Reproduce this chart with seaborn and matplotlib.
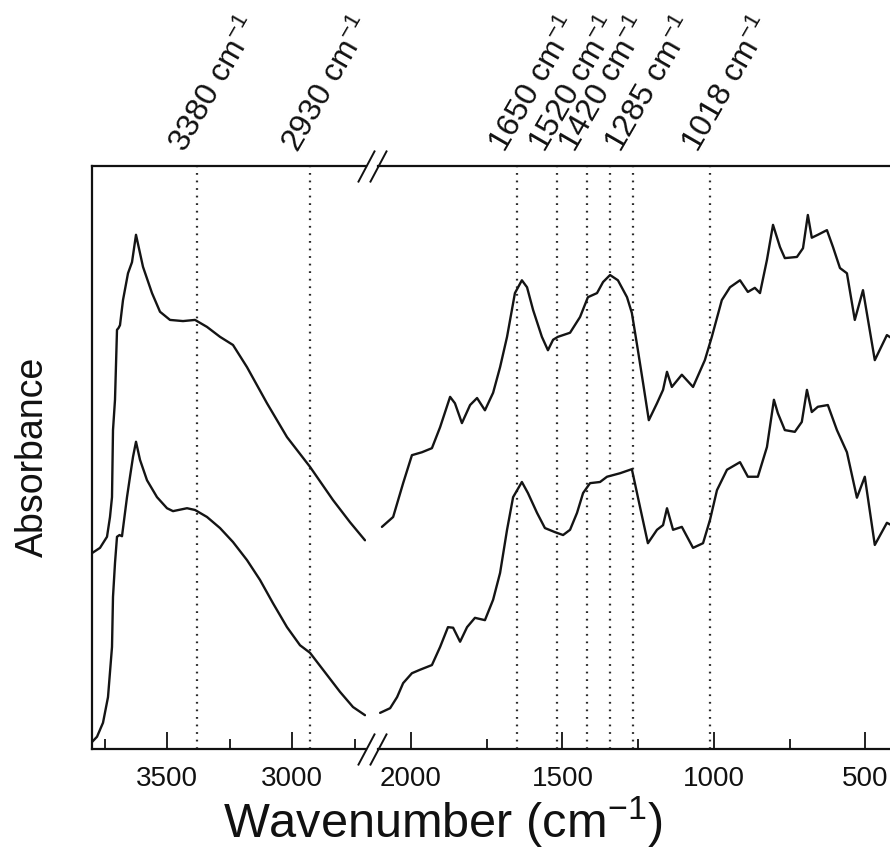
"""
FTIR spectra with a broken wavenumber axis
==========================================
Two stacked absorbance spectra, high-wavenumber and fingerprint regions.
"""

import pandas as pd
import matplotlib
matplotlib.use('Agg')
import matplotlib.pyplot as plt
import seaborn as sns


# =============================================================================
# DATA (arbitrary absorbance units)
# =============================================================================

# High-wavenumber region (3800 - 2700 cm-1)
UPPER_HIGH_WN = [3800, 3768, 3740, 3728, 3720, 3716, 3708, 3700, 3694, 3688,
                 3676, 3656, 3640, 3624, 3596, 3560, 3528, 3488, 3436, 3388,
                 3340, 3288, 3236, 3180, 3100, 3020, 2928, 2836, 2768, 2708]
UPPER_HIGH_ABS = [0.336, 0.345, 0.364, 0.398, 0.432, 0.547, 0.599, 0.719, 0.722, 0.727,
                  0.770, 0.816, 0.835, 0.882, 0.827, 0.782, 0.750, 0.736, 0.734, 0.736,
                  0.724, 0.707, 0.693, 0.655, 0.593, 0.535, 0.484, 0.427, 0.389, 0.358]

LOWER_HIGH_WN = [3800, 3780, 3756, 3736, 3720, 3716, 3708, 3700, 3690, 3680,
                 3660, 3648, 3636, 3624, 3608, 3580, 3540, 3500, 3476, 3420,
                 3388, 3340, 3288, 3236, 3180, 3128, 3076, 3020, 2968, 2928,
                 2876, 2808, 2756, 2708]
LOWER_HIGH_ABS = [0.012, 0.021, 0.045, 0.089, 0.175, 0.261, 0.319, 0.364, 0.367, 0.365,
                  0.432, 0.467, 0.501, 0.527, 0.496, 0.461, 0.432, 0.413, 0.408, 0.413,
                  0.410, 0.398, 0.379, 0.355, 0.324, 0.290, 0.250, 0.209, 0.178, 0.165,
                  0.136, 0.098, 0.072, 0.058]

# Low-wavenumber region (2100 - 400 cm-1)
UPPER_LOW_WN = [2096, 2059, 2026, 1997, 1964, 1931, 1904, 1871, 1855, 1832,
                1805, 1782, 1756, 1729, 1706, 1683, 1657, 1634, 1617, 1597,
                1568, 1548, 1531, 1515, 1475, 1442, 1416, 1386, 1366, 1343,
                1317, 1287, 1271, 1251, 1234, 1215, 1188, 1168, 1155, 1139,
                1106, 1069, 1030, 1007, 974, 947, 914, 888, 865, 848,
                825, 805, 782, 766, 726, 706, 690, 677, 657, 627,
                607, 584, 561, 535, 508, 469, 429, 400]
UPPER_LOW_ABS = [0.381, 0.398, 0.456, 0.504, 0.509, 0.516, 0.552, 0.604, 0.593, 0.559,
                 0.590, 0.602, 0.581, 0.611, 0.655, 0.707, 0.782, 0.804, 0.792, 0.753,
                 0.707, 0.684, 0.702, 0.707, 0.714, 0.741, 0.775, 0.782, 0.801, 0.813,
                 0.804, 0.775, 0.748, 0.684, 0.628, 0.564, 0.593, 0.616, 0.647, 0.621,
                 0.642, 0.621, 0.667, 0.707, 0.770, 0.792, 0.804, 0.784, 0.791, 0.782,
                 0.839, 0.899, 0.861, 0.842, 0.844, 0.859, 0.916, 0.877, 0.882, 0.890,
                 0.861, 0.825, 0.816, 0.736, 0.787, 0.667, 0.710, 0.700]

LOWER_LOW_WN = [2102, 2069, 2046, 2026, 1997, 1970, 1931, 1904, 1878, 1861,
                1838, 1815, 1789, 1756, 1729, 1706, 1683, 1663, 1634, 1614,
                1584, 1558, 1525, 1498, 1475, 1452, 1432, 1409, 1376, 1353,
                1310, 1271, 1244, 1218, 1188, 1168, 1155, 1135, 1106, 1069,
                1036, 1013, 990, 957, 914, 888, 855, 825, 802, 789,
                766, 733, 710, 693, 677, 657, 624, 594, 561, 528,
                502, 469, 429, 400]
LOWER_LOW_ABS = [0.062, 0.070, 0.089, 0.113, 0.130, 0.136, 0.144, 0.175, 0.209, 0.208,
                 0.184, 0.209, 0.225, 0.221, 0.256, 0.302, 0.376, 0.432, 0.458, 0.439,
                 0.405, 0.379, 0.372, 0.367, 0.376, 0.405, 0.439, 0.456, 0.458, 0.467,
                 0.473, 0.480, 0.415, 0.353, 0.376, 0.384, 0.413, 0.376, 0.381, 0.345,
                 0.353, 0.393, 0.444, 0.479, 0.492, 0.467, 0.467, 0.518, 0.599, 0.576,
                 0.547, 0.544, 0.561, 0.616, 0.578, 0.587, 0.590, 0.547, 0.509, 0.431,
                 0.467, 0.350, 0.388, 0.380]

# Band markers (dotted lines) and their labels
HIGH_MARK_WN = [3380, 2930]
HIGH_MARK_LABELS = ['3380 cm$^{-1}$', '2930 cm$^{-1}$']
LOW_MARK_WN = [1650, 1518, 1420, 1343, 1268, 1012]
LOW_MARK_LABELS = ['1650 cm$^{-1}$', '1520 cm$^{-1}$', '1420 cm$^{-1}$', '',
                   '1285 cm$^{-1}$', '1018 cm$^{-1}$']

HIGH_TICKS = [3500, 3000]
HIGH_MINOR = [3750, 3250, 2750]
LOW_TICKS = [2000, 1500, 1000, 500]
LOW_MINOR = [1750, 1250, 750]


# =============================================================================
# STYLE
# =============================================================================

sns.set_theme(style='white')
plt.rcParams['font.family'] = ['Liberation Sans', 'DejaVu Sans']
plt.rcParams['mathtext.fontset'] = 'custom'
plt.rcParams['mathtext.rm'] = 'Liberation Sans'
plt.rcParams['mathtext.it'] = 'Liberation Sans:italic'
plt.rcParams['mathtext.bf'] = 'Liberation Sans:bold'
plt.rcParams['text.color'] = '#111111'
plt.rcParams['xtick.color'] = '#111111'
plt.rcParams['xtick.labelcolor'] = '#111111'

LINE_COLOR = '#141414'
W, H = 890, 861


def spectra_frame(parts):
    frames = []
    for name, wn, ab in parts:
        frames.append(pd.DataFrame({'wn': wn, 'abs': ab, 'spectrum': name}))
    return pd.concat(frames, ignore_index=True)


def style_axis(ax, major, minor, hide):
    for side in ['left', 'right', 'top', 'bottom']:
        ax.spines[side].set_linewidth(1.6)
        ax.spines[side].set_color('#111111')
    for side in hide:
        ax.spines[side].set_visible(False)
    ax.set_xticks(major)
    ax.set_xticks(minor, minor=True)
    ax.tick_params(axis='x', which='major', direction='in', length=12, width=1.3,
                   bottom=True, top=False, labelsize=20, pad=12)
    ax.tick_params(axis='x', which='minor', direction='in', length=7, width=1.3,
                   bottom=True, top=False)
    ax.tick_params(axis='y', left=False, right=False, labelleft=False)
    ax.set_ylim(0, 1)
    ax.set_xlabel('')
    ax.set_ylabel('')


def mark_bands(ax, wns, labels):
    for wn, lab in zip(wns, labels):
        ax.axvline(wn, color='#2a2a2a', lw=1.6, linestyle=(0, (0.8, 2.6)), zorder=1)
        if lab:
            ax.annotate(lab, xy=(wn, 1), xycoords=('data', 'axes fraction'),
                        xytext=(-4, 6), textcoords='offset points',
                        rotation=60, rotation_mode='anchor', ha='left', va='bottom',
                        fontsize=23, annotation_clip=False)


fig = plt.figure(figsize=(W / 100, H / 100), dpi=100)
ax1 = fig.add_axes([92 / W, 112 / H, 274 / W, 583 / H])
ax2 = fig.add_axes([378 / W, 112 / H, 518 / W, 583 / H])

high = spectra_frame([('upper', UPPER_HIGH_WN, UPPER_HIGH_ABS),
                      ('lower', LOWER_HIGH_WN, LOWER_HIGH_ABS)])
low = spectra_frame([('upper', UPPER_LOW_WN, UPPER_LOW_ABS),
                     ('lower', LOWER_LOW_WN, LOWER_LOW_ABS)])

sns.lineplot(data=high, x='wn', y='abs', units='spectrum', estimator=None,
             color=LINE_COLOR, lw=1.7, sort=False, ax=ax1)
sns.lineplot(data=low, x='wn', y='abs', units='spectrum', estimator=None,
             color=LINE_COLOR, lw=1.7, sort=False, ax=ax2)

ax1.set_xlim(3800, 2704)
ax2.set_xlim(2109, 399)

style_axis(ax1, HIGH_TICKS, HIGH_MINOR, ['right'])
style_axis(ax2, LOW_TICKS, LOW_MINOR, ['left', 'right'])

mark_bands(ax1, HIGH_MARK_WN, HIGH_MARK_LABELS)
mark_bands(ax2, LOW_MARK_WN, LOW_MARK_LABELS)

# Axis break marks
brk = dict(marker=[(-0.53, -1), (0.53, 1)], markersize=23, linestyle='none',
           color='#111111', mec='#111111', mew=1.4, clip_on=False)
ax1.plot([1, 1], [0, 1], transform=ax1.transAxes, **brk)
ax2.plot([0, 0], [0, 1], transform=ax2.transAxes, **brk)

fig.text(0.497, 1 - 838 / H, 'Wavenumber (cm$^{-1}$)', ha='center', va='baseline',
         fontsize=35)
fig.text(33 / W, 1 - 457 / H, 'Absorbance', ha='center', va='center',
         rotation=90, fontsize=27)

fig.savefig('out.png', dpi=100, facecolor='white')
plt.close(fig)
